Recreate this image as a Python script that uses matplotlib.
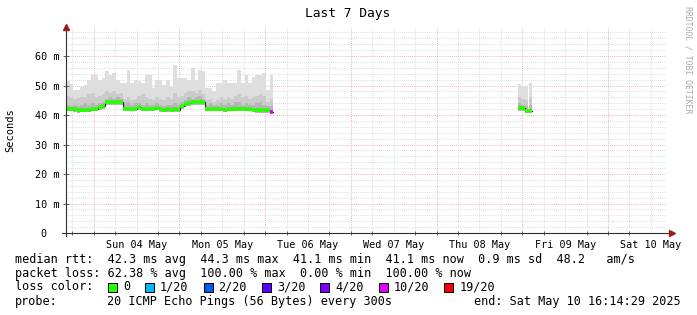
import numpy as np
import matplotlib
matplotlib.use("Agg")
import matplotlib.pyplot as plt

# hours since graph start (Sat 03 May 16:14:29); one rrd row per hour
t_block1 = np.arange(0, 58)
t_block2 = [126.5, 127.5, 128.5, 129.5]

median1 = [42.0, 42.0, 41.9, 41.6, 41.7, 41.8, 41.8, 42.1, 42.2, 42.6,
           43.0, 44.3, 44.3, 44.3, 44.3, 44.3, 42.2, 42.2, 42.2, 42.1,
           42.6, 42.1, 42.1, 42.1, 42.2, 42.5, 41.9, 41.8, 41.9, 41.8,
           41.9, 41.8, 42.9, 43.6, 44.0, 44.3, 44.3, 44.3, 44.3, 42.2,
           42.2, 42.2, 42.2, 42.0, 41.7, 42.1, 42.1, 42.1, 42.0, 42.0,
           42.0, 42.0, 41.8, 41.6, 41.6, 41.6, 41.6, 41.1]
smoke_max1 = [51.6, 50.5, 48.5, 48.5, 49.6, 50.2, 51.9, 53.6, 53.6, 51.9,
              52.5, 54.8, 53.4, 54.2, 51.9, 50.8, 50.8, 55.3, 50.8, 51.9,
              51.4, 50.8, 53.6, 53.6, 49.1, 51.9, 51.9, 50.2, 51.9, 49.6,
              56.9, 52.5, 52.5, 52.5, 51.9, 56.0, 51.9, 55.3, 54.8, 49.1,
              49.1, 48.0, 50.8, 50.8, 51.9, 50.8, 50.8, 50.8, 55.3, 50.8,
              53.6, 50.8, 53.0, 53.6, 53.6, 54.2, 48.5, 53.6]
smoke_mid1 = [46.5, 46.0, 45.5, 45.8, 46.2, 46.0, 47.0, 47.5, 46.0, 46.5,
              47.0, 48.0, 47.5, 48.0, 47.0, 47.5, 45.5, 46.0, 45.0, 45.5,
              46.5, 47.0, 46.0, 45.5, 45.0, 46.0, 45.5, 45.0, 46.0, 45.5,
              47.5, 46.0, 46.5, 47.5, 48.0, 48.0, 47.5, 48.5, 47.0, 45.0,
              45.5, 44.5, 45.0, 46.0, 45.5, 46.0, 45.5, 46.5, 47.0, 46.0,
              46.5, 45.5, 46.0, 46.5, 47.0, 46.5, 44.5, 45.5]
smoke_dark1 = [43.5, 43.0, 43.5, 43.0, 43.5, 44.0, 43.5, 44.0, 43.5, 44.0,
               44.5, 45.5, 46.0, 45.5, 46.0, 45.5, 44.0, 44.5, 43.5, 44.0,
               44.0, 43.5, 44.0, 43.5, 43.5, 44.0, 43.5, 43.0, 43.5, 43.5,
               44.0, 43.5, 44.5, 45.0, 46.0, 45.5, 46.0, 46.5, 45.5, 43.5,
               44.0, 43.5, 43.5, 44.0, 43.5, 44.0, 43.5, 44.5, 44.5, 43.5,
               44.0, 43.5, 43.5, 44.0, 44.5, 43.5, 43.0, 43.0]
loss1 = [0] * 57 + [10]

median2 = [42.3, 42.3, 41.4, 41.4]
smoke_max2 = [50.6, 50.0, 50.0, 51.0]
smoke_mid2 = [46.0, 45.5, 45.0, 46.0]
smoke_dark2 = [44.0, 43.5, 43.0, 43.5]
loss2 = [0, 0, 0, 0]

day_labels = ["Sun 04 May", "Mon 05 May", "Tue 06 May", "Wed 07 May",
              "Thu 08 May", "Fri 09 May", "Sat 10 May"]
first_midnight = 7.7586  # hours from start to Sun 04 May 00:00
span_hours = 168

loss_colors = {0: "#26ff00", 1: "#00b8ff", 2: "#0059ff", 3: "#5e00ff",
               4: "#7e00ff", 10: "#dd00ff", 19: "#ff0000"}
loss_names = ["0", "1/20", "2/20", "3/20", "4/20", "10/20", "19/20"]

mono = "DejaVu Sans Mono"
W, H = 697, 315
fig = plt.figure(figsize=(W / 100, H / 100), dpi=100)
ax = fig.add_axes([66 / W, 82 / H, 600 / W, 205 / H])
ax.set_xlim(0, span_hours)
ax.set_ylim(0, 69.5)
for s in ax.spines.values():
    s.set_visible(False)

# grid
dot = (0, (1, 1.5))
for y in np.arange(2, 70, 2):
    major = y % 10 == 0
    ax.axhline(y, color="#e2a0a0" if major else "#d2d2d2", lw=0.6,
               ls=dot, zorder=0)
six_h = np.arange(first_midnight - 6, span_hours, 6)
for x in six_h:
    major = abs((x - first_midnight) % 24) < 1e-6
    ax.axvline(x, color="#e2a0a0" if major else "#d2d2d2", lw=0.6,
               ls=dot, zorder=0)


def draw_block(t, med, smax, smid, sdark, loss):
    t = np.asarray(t, dtype=float)
    med = np.asarray(med)
    base = med - 0.8
    ax.bar(t, np.asarray(smax) - base, bottom=base, width=1.0, align="edge",
           color="#dedede", lw=0, zorder=1)
    ax.bar(t, np.asarray(smid) - base, bottom=base, width=1.0, align="edge",
           color="#cbcbcb", lw=0, zorder=2)
    ax.bar(t, np.asarray(sdark) - base, bottom=base, width=1.0, align="edge",
           color="#b6b6b6", lw=0, zorder=3)
    ax.step(np.append(t, t[-1] + 1), np.append(med, med[-1]), where="post",
            color="#202020", lw=0.8, zorder=4)
    for ti, m, l in zip(t, med, loss):
        ax.hlines(m, ti, ti + 1, color=loss_colors[l], lw=2.6, zorder=5)


draw_block(t_block1, median1, smoke_max1, smoke_mid1, smoke_dark1, loss1)
draw_block(t_block2, median2, smoke_max2, smoke_mid2, smoke_dark2, loss2)

# axes with arrows
ax.plot([-1.0, span_hours + 1.6], [0, 0], color="#303030", lw=0.8,
        clip_on=False, zorder=6)
ax.plot([0, 0], [-1.0, 69.5], color="#303030", lw=0.8, clip_on=False, zorder=6)
ax.plot(span_hours + 1.6, 0, marker=">", ms=4, color="#9b1c1c",
        clip_on=False, zorder=7)
ax.plot(0, 69.8, marker="^", ms=4, color="#9b1c1c", clip_on=False, zorder=7)

# ticks
ax.set_yticks(np.arange(0, 70, 10))
ax.set_yticklabels(["0  "] + [f"{v} m" for v in range(10, 70, 10)])
noons = first_midnight + 12 + 24 * np.arange(len(day_labels))
ax.set_xticks(noons)
ax.set_xticklabels(day_labels)
ax.set_xticks(six_h, minor=True)
ax.tick_params(axis="x", which="major", length=0, pad=5)
ax.tick_params(axis="x", which="minor", length=3, direction="inout",
               color="#505050", width=0.6)
ax.tick_params(axis="y", which="major", length=4, direction="inout",
               color="#505050", width=0.6, pad=3)
for lab in ax.get_xticklabels() + ax.get_yticklabels():
    lab.set_fontfamily(mono)
    lab.set_fontsize(7.3)

ax.set_ylabel("Seconds", fontfamily=mono, fontsize=7.5, labelpad=14)

fig.text(348 / W, 1 - 14 / H, "Last 7 Days", ha="center", va="center",
         fontfamily=mono, fontsize=9.3)
fig.text(688 / W, 1 - 60 / H, "RRDTOOL / TOBI OETIKER", rotation=270,
         ha="center", va="center", fontfamily=mono, fontsize=5.9,
         color="#a8a8a8")

# legend block
fs = 8.5
lines = [
    "median rtt:  42.3 ms avg  44.3 ms max  41.1 ms min  41.1 ms now  0.9 ms sd  48.2   am/s",
    "packet loss: 62.38 % avg  100.00 % max  0.00 % min  100.00 % now",
    "loss color:",
    "probe:",
]
ys = [259, 273, 287, 301]
for txt, y in zip(lines, ys):
    fig.text(15 / W, 1 - y / H, txt, ha="left", va="center",
             fontfamily=mono, fontsize=fs)
fig.text(107 / W, 1 - 301 / H, "20 ICMP Echo Pings (56 Bytes) every 300s",
         ha="left", va="center", fontfamily=mono, fontsize=fs)
fig.text(681 / W, 1 - 301 / H, "end: Sat May 10 16:14:29 2025",
         ha="right", va="center", fontfamily=mono, fontsize=fs)

x = 108
cw = 7.1
for key, name in zip(loss_colors, loss_names):
    fig.patches.append(plt.Rectangle((x / W, 1 - 292 / H), 9 / W, 9 / H,
                                     transform=fig.transFigure,
                                     facecolor=loss_colors[key],
                                     edgecolor="black", lw=0.7))
    fig.text((x + 15) / W, 1 - 287 / H, name, ha="left", va="center",
             fontfamily=mono, fontsize=fs)
    x = x + 15 + len(name) * cw + 15

fig.savefig("out.png", dpi=100)
